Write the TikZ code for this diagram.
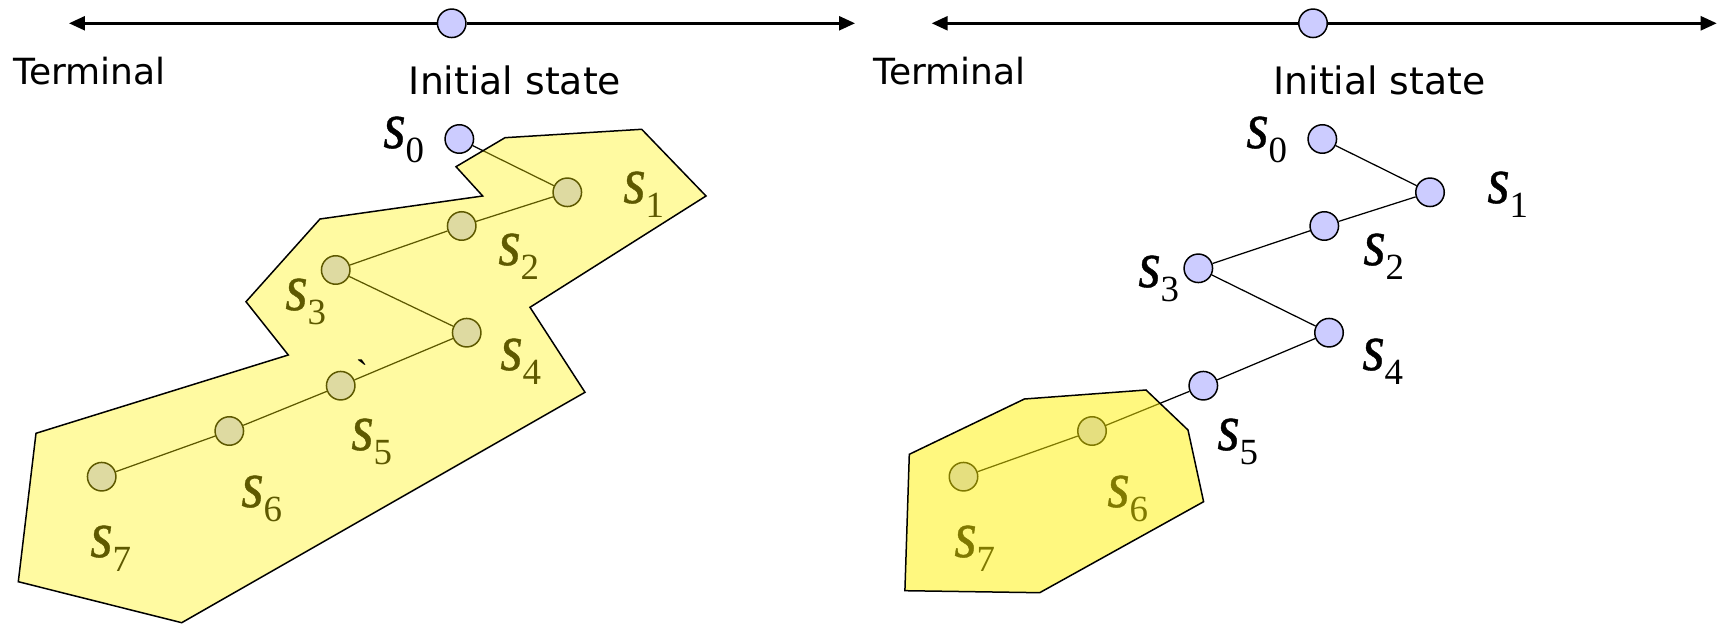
\documentclass[tikz,border=0pt]{standalone}
\usepackage{fontspec}
\setmainfont{DejaVu Sans}
\newfontfamily\timesfam{Liberation Serif}
\newfontfamily\timesit{Liberation Serif Italic}[FakeBold=0.6]
\usetikzlibrary{arrows.meta}
\definecolor{lav}{HTML}{CCCCFF}
\newcommand{\slbl}[1]{\scalebox{0.86}[1]{\fontsize{38pt}{40pt}\timesit s}\raisebox{-0.3cm}{\fontsize{21pt}{24pt}\timesfam #1}}
\tikzset{
  st/.style={circle, draw=black, fill=lav, line width=0.03cm, inner sep=0pt, minimum size=0.57cm},
  edge/.style={line width=0.025cm, draw=black},
  axis/.style={line width=0.05cm, -{Triangle[length=0.32cm,width=0.28cm]}},
  lbl/.style={inner sep=0pt, anchor=base west},
  txt/.style={inner sep=0pt, font=\fontsize{20.5pt}{24pt}\selectfont},
  txtb/.style={inner sep=0pt, font=\fontsize{21.5pt}{24pt}\selectfont},
  zone/.style={draw=black, line width=0.03cm, fill=yellow, fill opacity=#1},
}
\begin{document}
\begin{tikzpicture}[x=0.02cm,y=-0.02cm]
\useasboundingbox (0,0) rectangle (1719,624);
% ---------- left panel ----------
\node[st] (axl) at (451.7,23.3) {};
\coordinate (tl1) at (69,23.3);
\coordinate (tl2) at (855,23.3);
\draw[axis] (axl) -- (tl1);
\draw[axis] (axl) -- (tl2);
\node[txt, anchor=base west] (terml) at (13,85) {Terminal};
\node[txtb, anchor=base] (initl) at (515,95) {Initial state};

\node[st] (n0) at (459.3,139) {};
\node[st] (n1) at (567.3,192.3) {};
\node[st] (n2) at (461.7,226) {};
\node[st] (n3) at (335.7,270) {};
\node[st] (n4) at (466.7,332.7) {};
\node[st] (n5) at (340.7,385.7) {};
\node[st] (n6) at (229.3,431) {};
\node[st] (n7) at (101.7,476.7) {};
\draw[edge] (n0) -- (n1);
\draw[edge] (n1) -- (n2);
\draw[edge] (n2) -- (n3);
\draw[edge] (n3) -- (n4);
\draw[edge] (n4) -- (n5);
\draw[edge] (n5) -- (n6);
\draw[edge] (n6) -- (n7);
\node[lbl] (ln0) at (383,148) {\slbl{0}};
\node[lbl] (ln1) at (623,203) {\slbl{1}};
\node[lbl] (ln2) at (498,265) {\slbl{2}};
\node[lbl] (ln3) at (285,310) {\slbl{3}};
\node[lbl] (ln4) at (500,370) {\slbl{4}};
\node[lbl] (ln5) at (351,450) {\slbl{5}};
\node[lbl] (ln6) at (241,507) {\slbl{6}};
\node[lbl] (ln7) at (90,557) {\slbl{7}};
\draw[zone=0.37] (505,137.7) -- (641.7,129.3) -- (706,196) -- (530,307.3) -- (585,392.3)
  -- (181.7,622.7) -- (18.3,581.7) -- (36,433.3) -- (288.3,355) -- (246,301.7)
  -- (320,219) -- (482.7,196) -- (456,166.7) -- cycle;
\node[inner sep=0pt, anchor=base, font=\fontsize{21pt}{24pt}\timesfam] (tick) at (362,386) {\symbol{96}};
% ---------- right panel ----------
\node[st] (axr) at (1313,23.3) {};
\coordinate (tr1) at (931.7,23.3);
\coordinate (tr2) at (1716.7,23.3);
\draw[axis] (axr) -- (tr1);
\draw[axis] (axr) -- (tr2);
\node[txt, anchor=base west] (termr) at (873,85) {Terminal};
\node[txtb, anchor=base] (initr) at (1379.5,95) {Initial state};

\node[st] (r0) at (1322.3,139) {};
\node[st] (r1) at (1430,192.3) {};
\node[st] (r2) at (1324.3,226) {};
\node[st] (r3) at (1198.3,268.3) {};
\node[st] (r4) at (1329,332.7) {};
\node[st] (r5) at (1203.3,385.7) {};
\node[st] (r6) at (1092,431) {};
\node[st] (r7) at (963.5,476.7) {};
\draw[edge] (r0) -- (r1);
\draw[edge] (r1) -- (r2);
\draw[edge] (r2) -- (r3);
\draw[edge] (r3) -- (r4);
\draw[edge] (r4) -- (r5);
\draw[edge] (r5) -- (r6);
\draw[edge] (r6) -- (r7);
\node[lbl] (lr0) at (1246,148) {\slbl{0}};
\node[lbl] (lr1) at (1487,203) {\slbl{1}};
\node[lbl] (lr2) at (1363,265) {\slbl{2}};
\node[lbl] (lr3) at (1138,287) {\slbl{3}};
\node[lbl] (lr4) at (1362,370) {\slbl{4}};
\node[lbl] (lr5) at (1217,450) {\slbl{5}};
\node[lbl] (lr6) at (1107,507) {\slbl{6}};
\node[lbl] (lr7) at (954,557) {\slbl{7}};
\draw[zone=0.5] (1024.4,399) -- (1146,390) -- (1188,430) -- (1203.6,501.7)
  -- (1039.7,592.7) -- (904.9,590.7) -- (909.3,454.3) -- cycle;
\end{tikzpicture}
\end{document}
